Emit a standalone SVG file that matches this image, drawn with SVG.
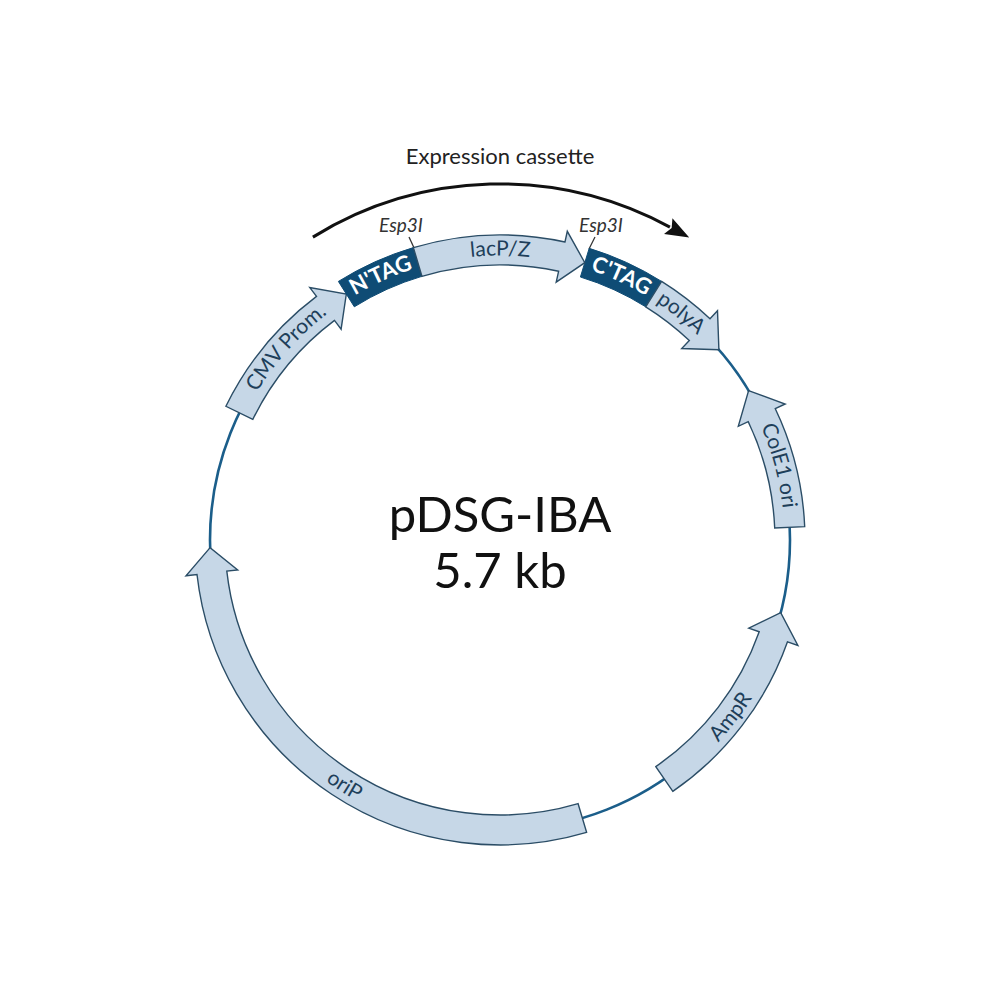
<svg xmlns="http://www.w3.org/2000/svg" width="1000" height="1000" viewBox="0 0 1000 1000">
<defs>
<style>
.feat{fill:#c6d7e7;stroke:#2b4d66;stroke-width:1.4;stroke-linejoin:miter}
.tag{fill:#0f4c75;stroke:#0f4c75;stroke-width:1}
.lbl{font-family:Lato,'Liberation Sans',sans-serif;font-size:21px;fill:#1e3f5a}
.tagl{font-family:Lato,'Liberation Sans',sans-serif;font-size:22px;font-weight:bold;fill:#ffffff}
.esp{font-family:Lato,'Liberation Sans',sans-serif;font-size:19px;font-style:italic;fill:#333333}
.title{font-family:Lato,'Liberation Sans',sans-serif;font-size:49px;fill:#111111;text-anchor:middle}
.site{stroke:#333333;stroke-width:1.3;fill:none}
</style>
<marker id="head" markerUnits="userSpaceOnUse" markerWidth="24" markerHeight="20" refX="2" refY="10" orient="auto">
<path d="M0,1 L24,10 L0,19 L4,10 Z" fill="#111111"/>
</marker>
<path id="cw" d="M500,824.5 A284.5,284.5 0 1 1 500,255.5 A284.5,284.5 0 1 1 500,824.5"/>
<path id="ccw" d="M500,242.5 A297.5,297.5 0 1 0 500,837.5 A297.5,297.5 0 1 0 500,242.5"/>
</defs>
<rect width="1000" height="1000" fill="#ffffff"/>
<g id="connectors">
<circle id="backbone" cx="500" cy="540" r="290" fill="none" stroke="#1b5e8a" stroke-width="2.6"/>
<path id="cassette-arrow" d="M312.9,237.1 A356,356 0 0 1 669.9,227.1" fill="none" stroke="#111111" stroke-width="3" marker-end="url(#head)"/>
<line class="site" x1="409" y1="237" x2="415" y2="250"/>
<line class="site" x1="595" y1="237" x2="589" y2="249"/>
</g>
<g id="cmv-prom">
<path class="feat" d="M252.8,419.4 L225.9,406.3 A305,305 0 0 1 316.5,296.4 L309.8,287.6 L346.3,294.1 L341.1,329.2 L334.5,320.4 A275,275 0 0 0 252.8,419.4 Z"/>
<text class="lbl"><textPath href="#cw" startOffset="655" text-anchor="middle">CMV Prom.</textPath></text>
</g>
<g id="ntag">
<path class="tag" d="M338.4,281.4 A305,305 0 0 1 413.4,247.6 L421.9,276.3 A275,275 0 0 0 354.3,306.8 Z"/>
<text class="tagl"><textPath href="#cw" startOffset="773" text-anchor="middle">N'TAG</textPath></text>
</g>
<g id="ctag">
<path class="tag" d="M589.2,248.3 A305,305 0 0 1 661.6,281.4 L645.7,306.8 A275,275 0 0 0 580.4,277.0 Z"/>
<text class="tagl"><textPath href="#cw" startOffset="1016" text-anchor="middle">C'TAG</textPath></text>
</g>
<g id="lacpz">
<path class="feat" d="M421.9,276.3 L413.4,247.6 A305,305 0 0 1 565.0,242.0 L567.3,231.3 L584.8,262.7 L556.2,282.1 L558.6,271.3 A275,275 0 0 0 421.9,276.3 Z"/>
<text class="lbl"><textPath href="#cw" startOffset="893.8" text-anchor="middle">lacP/Z</textPath></text>
</g>
<g id="polya">
<path class="feat" d="M645.7,306.8 L661.6,281.4 A305,305 0 0 1 710.0,318.8 L717.5,310.8 L718.9,349.7 L681.7,348.5 L689.3,340.5 A275,275 0 0 0 645.7,306.8 Z"/>
<text class="lbl"><textPath href="#cw" startOffset="1085" text-anchor="middle">polyA</textPath></text>
</g>
<g id="cole1-ori">
<path class="feat" d="M804.7,526.7 A305,305 0 0 0 775.3,408.7 L785.2,404.0 L748.6,390.6 L738.3,426.3 L748.2,421.6 A275,275 0 0 1 774.7,528.0 Z"/>
<text class="lbl"><textPath href="#cw" startOffset="1266" text-anchor="middle">ColE1 ori</textPath></text>
</g>
<g id="ampr">
<path class="feat" d="M672.8,791.4 A305,305 0 0 0 787.5,641.8 L797.9,645.5 L780.7,612.6 L748.8,628.1 L759.2,631.8 A275,275 0 0 1 655.8,766.6 Z"/>
<text class="lbl"><textPath href="#ccw" startOffset="1207" text-anchor="middle">AmpR</textPath></text>
</g>
<g id="orip">
<path class="feat" d="M578.1,803.7 L586.6,832.4 A305,305 0 0 1 197.0,574.5 L186.0,575.8 L210.1,547.6 L237.7,569.9 L226.8,571.1 A275,275 0 0 0 578.1,803.7 Z"/>
<text class="lbl"><textPath href="#ccw" startOffset="766.4" text-anchor="middle">oriP</textPath></text>
</g>
<g id="labels">
<text class="esp" x="401" y="232" text-anchor="middle">Esp3I</text>
<text class="esp" x="601" y="232" text-anchor="middle">Esp3I</text>
<text x="500" y="164" text-anchor="middle" style="font-family:Lato,'Liberation Sans',sans-serif;font-size:22px;fill:#222222">Expression cassette</text>
</g>
<g id="plasmid-name">
<text class="title" x="500" y="532">pDSG-IBA</text>
<text class="title" x="500" y="588">5.7 kb</text>
</g>
</svg>
